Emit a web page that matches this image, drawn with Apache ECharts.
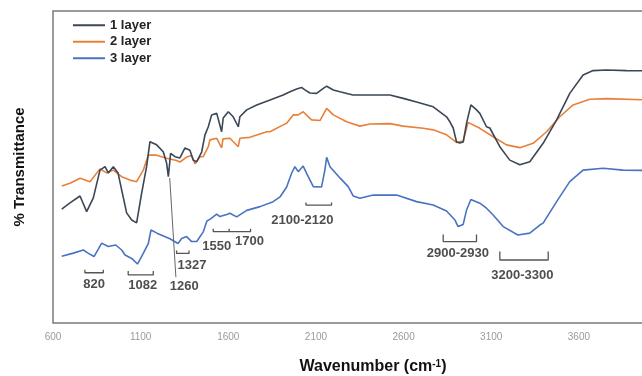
<!DOCTYPE html>
<html>
<head>
<meta charset="utf-8">
<script src="https://cdn.jsdelivr.net/npm/echarts@6/dist/echarts.min.js"></script>
<style>
html,body{margin:0;padding:0;background:#fff;}
#chart{width:642px;height:376px;}
</style>
</head>
<body>
<div id="chart"></div>
<script>
// ---------- data (wavenumber cm-1, % transmittance, arbitrary offset scale) ----------
var seriesNames = ['1 layer', '2 layer', '3 layer'];
var xTickValues = [600, 1100, 1600, 2100, 2600, 3100, 3600];

var layer1 = [
  [650,36.5],[697,38.5],[754,40.7],[792,35.7],[830,40.1],[868,49.0],[897,50.1],[915,48.1],
  [944,50.1],[971,48.1],[992,42.6],[1020,35.3],[1049,33.0],[1077,32.1],[1106,41.7],[1134,50.1],
  [1153,58.1],[1191,57.1],[1229,54.9],[1248,51.3],[1258,46.9],[1264,46.5],[1271,54.4],[1296,53.3],
  [1324,52.9],[1353,56.1],[1381,55.4],[1400,52.2],[1420,51.7],[1448,54.8],[1467,60.3],[1486,62.9],
  [1505,66.7],[1534,67.2],[1562,61.3],[1571,65.7],[1600,67.7],[1628,66.1],[1657,62.9],[1666,66.1],
  [1705,68.3],[1762,69.9],[1838,71.5],[1913,73.1],[1952,74.1],[1990,75.0],[2018,75.5],[2037,74.7],
  [2066,73.7],[2104,73.6],[2142,75.2],[2161,75.9],[2199,74.7],[2237,74.1],[2311,73.1],[2408,73.1],
  [2522,73.1],[2598,72.0],[2674,70.8],[2769,69.3],[2807,67.7],[2845,66.1],[2864,64.5],[2883,62.5],
  [2902,58.0],[2921,57.7],[2940,58.0],[2959,64.0],[2984,69.9],[3016,68.3],[3035,67.2],[3073,62.9],
  [3092,62.5],[3149,56.5],[3206,52.2],[3263,50.7],[3320,51.7],[3396,57.6],[3473,65.1],[3548,73.6],
  [3624,79.5],[3681,80.9],[3758,81.1],[3872,80.9],[4000,80.8]
];

var layer2 = [
  [650,43.9],[697,44.8],[754,46.4],[811,45.3],[868,49.4],[906,48.1],[944,49.0],[992,46.9],
  [1039,45.8],[1077,45.3],[1115,49.0],[1144,53.8],[1153,54.4],[1191,53.8],[1248,52.8],[1305,52.1],
  [1324,51.6],[1362,53.2],[1391,53.7],[1410,51.0],[1420,50.6],[1438,53.3],[1457,53.3],[1486,56.5],
  [1495,58.7],[1534,59.2],[1562,56.1],[1570,59.0],[1609,59.2],[1657,56.5],[1666,59.2],[1723,59.5],
  [1819,61.3],[1838,61.3],[1913,63.5],[1933,64.0],[1970,66.7],[1980,67.2],[1999,66.7],[2027,67.7],
  [2075,65.1],[2123,64.9],[2161,68.8],[2199,66.7],[2275,64.5],[2351,63.1],[2408,63.8],[2522,63.9],
  [2598,63.1],[2712,62.4],[2769,61.9],[2845,60.3],[2902,57.9],[2940,58.3],[2968,64.3],[3035,62.4],
  [3111,59.7],[3187,57.1],[3263,56.2],[3339,57.6],[3416,61.3],[3491,66.1],[3567,69.9],[3662,71.7],
  [3758,71.9],[4000,71.5]
];

var layer3 = [
  [650,21.4],[716,22.4],[773,23.4],[800,22.4],[834,21.3],[878,25.6],[915,24.5],[958,25.0],
  [992,23.4],[1011,21.8],[1049,20.7],[1082,18.9],[1115,22.3],[1144,25.5],[1159,29.8],[1193,28.8],
  [1267,27.0],[1313,25.5],[1334,27.1],[1362,27.7],[1391,26.1],[1420,26.1],[1457,29.2],[1478,32.7],
  [1495,33.2],[1534,34.9],[1552,34.1],[1591,34.8],[1609,35.2],[1648,34.0],[1657,34.1],[1705,36.1],
  [1781,37.3],[1856,38.9],[1895,40.4],[1933,43.6],[1961,48.0],[1980,50.1],[1999,48.5],[2027,50.3],
  [2056,46.9],[2085,43.7],[2132,43.6],[2151,49.0],[2161,53.1],[2180,50.1],[2237,46.5],[2284,43.7],
  [2313,40.7],[2351,40.0],[2427,41.0],[2560,41.0],[2674,38.9],[2769,37.8],[2845,35.9],[2893,33.0],
  [2911,30.9],[2940,31.6],[2959,36.2],[2984,39.6],[3035,38.4],[3073,36.8],[3111,34.6],[3168,30.9],
  [3252,28.2],[3320,28.8],[3377,31.4],[3396,32.0],[3473,38.9],[3548,45.3],[3624,49.0],[3738,49.6],
  [3852,49.0],[4000,48.9]
];

// band brackets: [startWn, endWn, baseline, tickTop]
var bandBrackets = [
  [782, 887, 16.1, 17.1],
  [1029, 1172, 15.4, 16.7],
  [1305, 1376, 22.3, 23.2],
  [1514, 1605, 29.3, 30.2],
  [1605, 1727, 29.3, 30.2],
  [2043, 2189, 37.8, 38.6],
  [2826, 3016, 26.1, 28.4],
  [3149, 3425, 20.2, 22.9]
];
// pointer line for the 1260 band: [[wn, T], [wn, T]]
var pointer1260 = [[1266, 46.5], [1301, 14.7]];
// band labels: [wn, T, text]
var bandLabels = [
  [834, 12.5, '820'],
  [1112, 12.2, '1082'],
  [1393, 18.3, '1327'],
  [1349, 11.6, '1260'],
  [1534, 24.5, '1550'],
  [1721, 26.1, '1700'],
  [2023, 33.0, '2100-2120'],
  [2910, 22.3, '2900-2930'],
  [3278, 15.1, '3200-3300']
];

// ---------- build ----------
var bracketData = [];
bandBrackets.forEach(function (b) {
  bracketData.push([b[0], b[3]], [b[0], b[2]], [b[1], b[2]], [b[1], b[3]], [b[1], '-']);
});

var FONT = '"Liberation Sans", Arial, sans-serif';
var colors = ['#3b4656', '#e8803a', '#4a72c2'];

var chart = echarts.init(document.getElementById('chart'), null, {renderer: 'canvas'});
var option = {
  animation: false,
  backgroundColor: '#fff',
  grid: {
    left: 53, top: 11, right: -7, bottom: 53,
    outerBoundsMode: 'none',
    containLabel: false,
    show: true, borderColor: '#7a7a7a', borderWidth: 1.5, backgroundColor: 'transparent'
  },
  legend: {
    data: seriesNames,
    orient: 'vertical',
    left: 68, top: 12,
    icon: 'rect',
    itemWidth: 32, itemHeight: 2,
    itemGap: 0,
    itemTextGap: 7,
    textStyle: {fontFamily: FONT, fontSize: 13, fontWeight: 'bold', color: '#222', lineHeight: 16.5}
  },
  xAxis: {
    type: 'value', min: 600, max: 4000,
    name: 'Wavenumber (cm{s|-1})',
    nameLocation: 'middle', nameGap: 36,
    nameTextStyle: {
      fontFamily: FONT, fontSize: 16, fontWeight: 'bold', color: '#111',
      padding: [0, 0, 0, 44],
      rich: {s: {fontFamily: FONT, fontSize: 10, fontWeight: 'bold', color: '#111', verticalAlign: 'top', padding: [0, 0, 6, 0]}}
    },
    axisLine: {show: false},
    axisTick: {show: false},
    splitLine: {show: false},
    axisLabel: {
      customValues: xTickValues, color: '#9a9a9a', fontSize: 10, fontFamily: FONT, margin: 9,
      formatter: function (v) { return String(v); }
    }
  },
  yAxis: {
    type: 'value', min: 0, max: 100,
    name: '% Transmittance',
    nameLocation: 'middle', nameRotate: 90, nameGap: 26,
    nameTextStyle: {fontFamily: FONT, fontSize: 15, fontWeight: 'bold', color: '#111'},
    axisLine: {show: false},
    axisTick: {show: false},
    axisLabel: {show: false},
    splitLine: {show: false}
  },
  series: [
    {name: seriesNames[0], type: 'line', data: layer1, showSymbol: false, symbol: 'none',
     lineStyle: {color: colors[0], width: 1.6}, itemStyle: {color: colors[0]}, z: 3},
    {name: seriesNames[1], type: 'line', data: layer2, showSymbol: false, symbol: 'none',
     lineStyle: {color: colors[1], width: 1.6}, itemStyle: {color: colors[1]}, z: 2},
    {name: seriesNames[2], type: 'line', data: layer3, showSymbol: false, symbol: 'none',
     lineStyle: {color: colors[2], width: 1.6}, itemStyle: {color: colors[2]}, z: 2},
    {name: 'brackets', type: 'line', data: bracketData, showSymbol: false, symbol: 'none',
     connectNulls: false, lineStyle: {color: '#555', width: 1.3}, z: 4},
    {name: 'pointer', type: 'line', data: pointer1260, showSymbol: false, symbol: 'none',
     lineStyle: {color: '#666', width: 1}, z: 4},
    {name: 'labels', type: 'scatter', symbolSize: 0,
     data: bandLabels.map(function (d) { return {value: [d[0], d[1]], name: d[2]}; }),
     label: {show: true, position: 'inside', formatter: '{b}',
             fontFamily: FONT, fontSize: 13, fontWeight: 'bold', color: '#222'},
     z: 5}
  ]
};
chart.setOption(option);
</script>
</body>
</html>
